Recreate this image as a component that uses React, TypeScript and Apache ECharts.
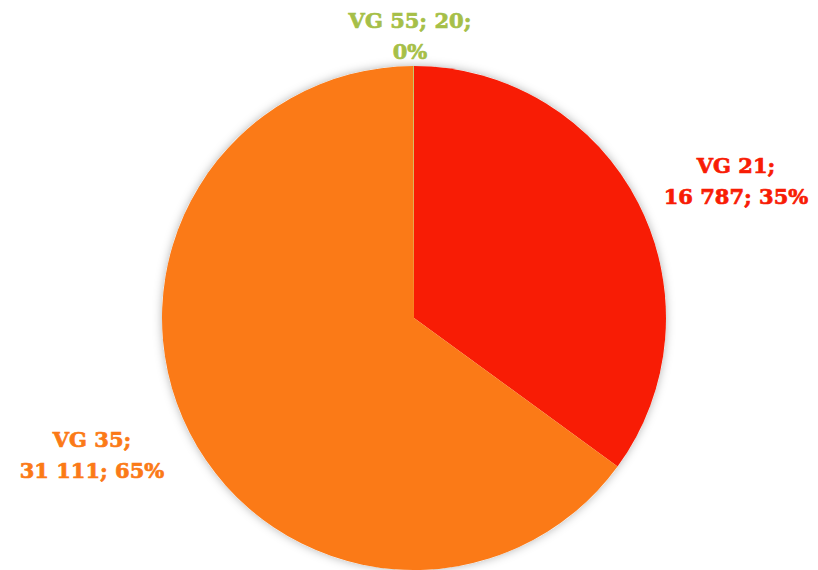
import React, { useEffect, useRef } from "react";
import * as echarts from "echarts";

const categories = ["VG 21", "VG 35", "VG 55"];
const values = [16787, 31111, 20];
const colors = ["#F81C05", "#FB7A17", "#A6BF48"];

function fmt(n: number): string {
  return String(n).replace(/\B(?=(\d{3})+(?!\d))/g, " ");
}

const labelPos: Record<string, [number, number]> = {
  "VG 21": [736, 181],
  "VG 35": [92, 455],
  "VG 55": [410, 36],
};

export default function App() {
  const ref = useRef<HTMLDivElement>(null);
  useEffect(() => {
    if (!ref.current) return;
    const chart = echarts.init(ref.current, undefined, { renderer: "svg" });
    const total = values.reduce((a, b) => a + b, 0);
    chart.setOption({
      animation: false,
      backgroundColor: "#ffffff",
      series: [
        {
          type: "pie",
          silent: true,
          z: 1,
          center: [414, 318],
          radius: 252,
          label: { show: false },
          labelLine: { show: false },
          data: [{ name: "shadow", value: total }],
          itemStyle: {
            color: "#ffffff",
            shadowBlur: 10,
            shadowColor: "rgba(0,0,0,0.3)",
          },
          emphasis: { disabled: true },
          tooltip: { show: false },
        },
        {
          type: "pie",
          z: 2,
          center: [414, 318],
          radius: 252,
          startAngle: 90,
          clockwise: true,
          percentPrecision: 0,
          avoidLabelOverlap: false,
          minShowLabelAngle: 0,
          data: categories.map((c, i) => ({
            name: c,
            value: values[i],
            itemStyle: { color: colors[i] },
            label: { color: colors[i], textBorderColor: colors[i] },
          })),
          itemStyle: { borderWidth: 0 },
          label: {
            show: true,
            position: "outside",
            fontFamily: "DejaVu Serif",
            fontWeight: "bold",
            fontSize: 21,
            lineHeight: 31,
            textBorderWidth: 0.7,
            align: "center",
            formatter: (p: any) =>
              p.name === "VG 55"
                ? `${p.name}; ${fmt(p.value)};\n${p.percent}%`
                : `${p.name};\n${fmt(p.value)}; ${p.percent}%`,
          },
          labelLine: { show: false },
          labelLayout: (params: any) => {
            const name = categories[params.dataIndex];
            const pos = labelPos[name];
            return {
              x: pos[0],
              y: pos[1],
              align: "center",
              verticalAlign: "middle",
            };
          },
          emphasis: { disabled: true },
        },
      ],
    });
    return () => chart.dispose();
  }, []);
  return (
    <div
      ref={ref}
      style={{ position: "absolute", left: 0, top: 0, width: 818, height: 570 }}
    />
  );
}
